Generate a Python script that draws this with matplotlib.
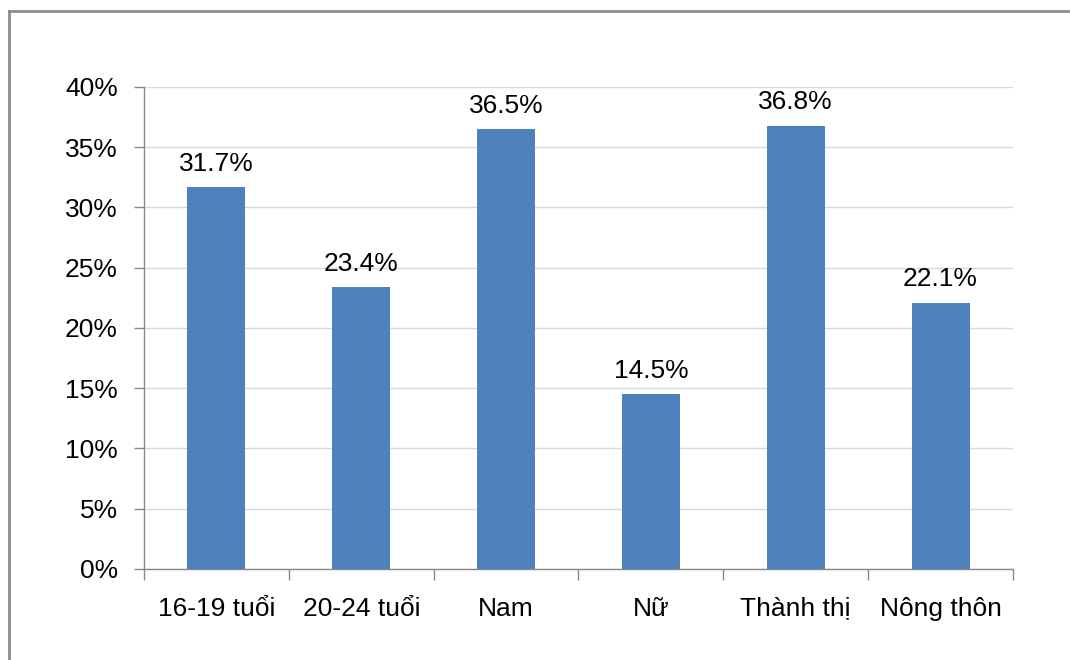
import matplotlib
matplotlib.use("Agg")
import matplotlib.pyplot as plt
from matplotlib.lines import Line2D
from matplotlib.ticker import FuncFormatter, MultipleLocator

# Data
categories = ["16-19 tuổi", "20-24 tuổi", "Nam", "Nữ", "Thành thị", "Nông thôn"]
values = [31.7, 23.4, 36.5, 14.5, 36.8, 22.1]

plt.rcParams['font.family'] = ['Liberation Sans', 'DejaVu Sans']

fig = plt.figure(figsize=(10.7, 6.6), dpi=100)
ax = fig.add_axes([0.1346, 0.1379, 0.8121, 0.7303])

bar_color = "#4f81bd"
x = range(len(categories))
ax.bar(x, values, width=0.4, color=bar_color, zorder=3)

# value labels above each bar
for xi, v in zip(x, values):
    ax.text(xi, v + 1.35, f"{v:.1f}%", ha="center", va="baseline", fontsize=19, color="black")

ax.set_xlim(-0.5, len(categories) - 0.5)
ax.set_ylim(0, 40)
ax.yaxis.set_major_locator(MultipleLocator(5))
ax.yaxis.set_major_formatter(FuncFormatter(lambda v, p: f"{v:.0f}%"))
ax.grid(axis="y", color="#d9d9d9", linewidth=1, zorder=0)

# x ticks at category boundaries, labels centred under bars
ax.set_xticks([i - 0.5 for i in range(len(categories) + 1)])
ax.set_xticklabels([])
ax.set_xticks(list(x), minor=True)
ax.set_xticklabels(categories, minor=True, fontsize=19)
ax.tick_params(axis="x", which="major", length=8, width=1, color="#888888", direction="out")
ax.tick_params(axis="x", which="minor", length=0, pad=20)
ax.tick_params(axis="y", length=7, width=1, color="#888888", labelsize=19, pad=12)

for side in ["top", "right"]:
    ax.spines[side].set_visible(False)
for side in ["left", "bottom"]:
    ax.spines[side].set_color("#888888")
    ax.spines[side].set_linewidth(1)

# outer frame (top and left edges)
fx = 9 / 1070
fy = 1 - 11 / 660
fig.add_artist(Line2D([fx, fx], [0, fy], transform=fig.transFigure, color="#8c8c8c", linewidth=2))
fig.add_artist(Line2D([fx, 1], [fy, fy], transform=fig.transFigure, color="#8c8c8c", linewidth=2))

fig.savefig("out.png", dpi=100)
